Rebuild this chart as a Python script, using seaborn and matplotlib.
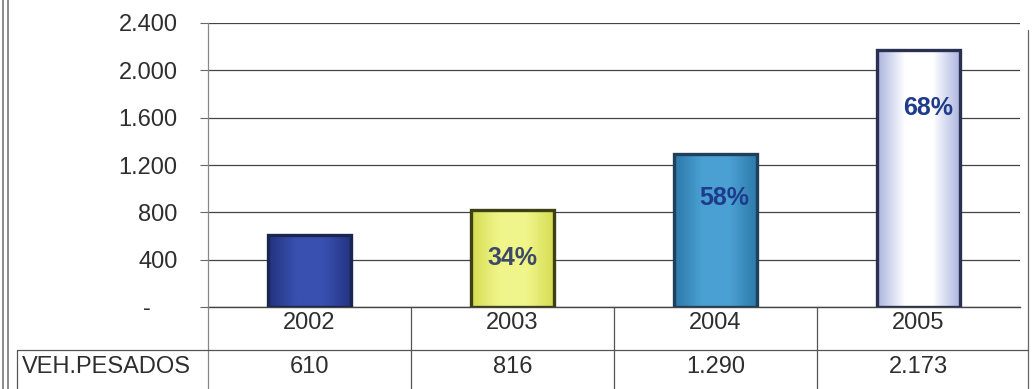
import matplotlib
matplotlib.use("Agg")
import matplotlib.pyplot as plt
import matplotlib.transforms as mtransforms
from matplotlib.lines import Line2D
from matplotlib.colors import LinearSegmentedColormap
import numpy as np
import pandas as pd
import seaborn as sns

# Heavy-vehicle counts per year
years = ["2002", "2003", "2004", "2005"]
veh_pesados = [610, 816, 1290, 2173]
row_label = "VEH.PESADOS"
y_ticks = [0, 400, 800, 1200, 1600, 2000, 2400]

bar_colors = ["#2d3f9c", "#e4ea6c", "#3a8cc0", "#dfe3f6"]
# (side, centre) shades for the cylinder-like shading of each bar
bar_shades = [("#23337f", "#3a50b0"), ("#d4dc50", "#f0f58a"),
              ("#2c78aa", "#4aa0d2"), ("#a9b3e0", "#ffffff")]
edge_colors = ["#1c2550", "#3d3f14", "#1f3f5a", "#2a3050"]
pct_colors = [None, "#3c4a66", "#1f3c8c", "#1f3c8c"]


def fmt_es(v):
    return f"{v:,.0f}".replace(",", ".")


df = pd.DataFrame({"year": years, "value": veh_pesados})

sns.set_theme(style="white")
plt.rcParams["font.family"] = ["Liberation Sans", "DejaVu Sans"]

W, H = 1035, 389
FS = 17
TXT = "#2e2e2e"
fig = plt.figure(figsize=(W / 100, H / 100), dpi=100)
ax = fig.add_axes([208 / W, 1 - 307 / H, (1020 - 208) / W, (307 - 23) / H])

sns.barplot(data=df, x="year", y="value", hue="year", palette=bar_colors,
            legend=False, width=0.41, ax=ax, saturation=1, zorder=3)

ax.set_xlim(-0.5, 3.5)
ax.set_ylim(0, 2400)

# horizontal shading inside each bar
for p, ec, (side, mid) in zip(ax.patches, edge_colors, bar_shades):
    p.set_edgecolor(ec)
    p.set_linewidth(2.4)
    cmap = LinearSegmentedColormap.from_list("shade", [side, mid, mid, side])
    x0, y0 = p.get_x(), p.get_y()
    grad = np.linspace(0, 1, 256).reshape(1, -1)
    im = ax.imshow(grad, cmap=cmap, aspect="auto", zorder=3.5,
                   extent=[x0, x0 + p.get_width(), y0, y0 + p.get_height()])
    im.set_clip_path(p)
    p.set_facecolor("none")
    p.set_zorder(4)

ax.set_xlim(-0.5, 3.5)
ax.set_ylim(0, 2400)
ax.set_yticks(y_ticks)
ax.set_yticklabels(["-"] + [fmt_es(t) for t in y_ticks[1:]],
                   fontsize=FS, color=TXT)
ax.tick_params(axis="y", length=6, width=0.8, color="#666666", pad=16, left=True)
ax.set_xticks([])
ax.set_xlabel("")
ax.set_ylabel("")
ax.yaxis.grid(True, color="#444444", linewidth=0.9, zorder=0)
ax.set_axisbelow(True)
for s in ["top", "right"]:
    ax.spines[s].set_visible(False)
ax.spines["left"].set_color("#888888")
ax.spines["left"].set_linewidth(0.9)
ax.spines["bottom"].set_color("#444444")
ax.spines["bottom"].set_linewidth(1.0)

# shift the zero label ("-") toward the left
zero_lbl = ax.get_yticklabels()[0]
zero_lbl.set_transform(zero_lbl.get_transform()
                       + mtransforms.ScaledTranslation(-27 / 100, 0, fig.dpi_scale_trans))

# growth percentage labels inside bars
label_frac = [None, 0.51, 0.715, 0.775]
label_dx = [0, 0.0, 0.045, 0.045]
for i in range(1, len(veh_pesados)):
    pct = round((veh_pesados[i] / veh_pesados[i - 1] - 1) * 100)
    ax.text(i + label_dx[i], veh_pesados[i] * label_frac[i], f"{pct}%",
            ha="center", va="center", fontsize=18, fontweight="bold",
            color=pct_colors[i], zorder=6)

# data table below the plot
bt = mtransforms.blended_transform_factory(ax.transData, fig.transFigure)
ft = fig.transFigure
y_axis = 1 - 307 / H
y_mid = 1 - 350 / H
y_bot = 0.0
line_kw = dict(color="#555555", linewidth=0.9)

for b in [0.5, 1.5, 2.5]:
    fig.add_artist(Line2D([b, b], [y_bot, y_axis], transform=bt, **line_kw))
fig.add_artist(Line2D([1028 / W, 1028 / W], [y_bot, 1 - 30 / H], transform=ft,
                      color="#666666", linewidth=0.9))
fig.add_artist(Line2D([-0.5, -0.5], [y_bot, y_axis], transform=bt,
                      color="#888888", linewidth=0.9))
fig.add_artist(Line2D([17 / W, 1028 / W], [y_mid, y_mid], transform=ft, **line_kw))
fig.add_artist(Line2D([17 / W, 17 / W], [y_bot, y_mid], transform=ft, **line_kw))

for i, (yr, v) in enumerate(zip(years, veh_pesados)):
    fig.text(i, 1 - 323 / H, yr, transform=bt, ha="center",
             va="center", fontsize=FS, color=TXT)
    fig.text(i, 1 - 367 / H, fmt_es(v), transform=bt, ha="center",
             va="center", fontsize=FS, color=TXT)
fig.text(22 / W, 1 - 367 / H, row_label, transform=ft, ha="left", va="center",
         fontsize=FS, color=TXT)

# double frame line on the left edge
for xpx in [3, 8]:
    fig.add_artist(Line2D([xpx / W, xpx / W], [0, 1], transform=ft,
                          color="#777777", linewidth=1.2))

fig.savefig("out.png", dpi=100)
